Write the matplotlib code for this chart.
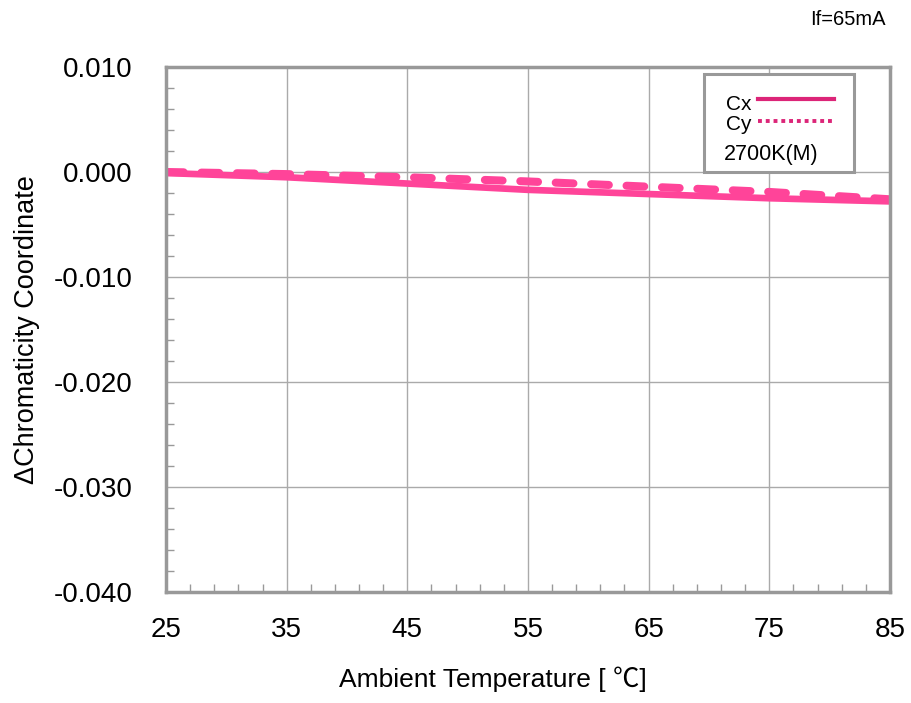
import matplotlib.pyplot as plt
import matplotlib.patches as patches
from matplotlib.lines import Line2D
from matplotlib.ticker import MultipleLocator

plt.rcParams['font.family'] = ['Liberation Sans', 'Noto Sans CJK JP', 'DejaVu Sans']
plt.rcParams['axes.unicode_minus'] = False

# Ambient temperature [C] and chromaticity shift
temps = [25, 35, 45, 55, 65, 75, 85]
cx = [-0.0001, -0.0005, -0.0011, -0.0017, -0.0021, -0.0025, -0.0028]
cy = [0.0000, -0.0002, -0.0005, -0.0009, -0.0014, -0.0019, -0.0026]
xticks = [25, 35, 45, 55, 65, 75, 85]
yticks = [-0.040, -0.030, -0.020, -0.010, 0.000, 0.010]

line_color = '#FF4499'
legend_color = '#DC2578'
frame_color = '#999999'

fig = plt.figure(figsize=(9.11, 7.03), dpi=100)
ax = fig.add_axes([0.1822, 0.1579, 0.7947, 0.7468])

ax.plot(temps, cy, color=line_color, lw=5.8, dashes=(2.2, 2.2), dash_capstyle='round')
ax.plot(temps, cx, color=line_color, lw=4.8, solid_capstyle='round')

ax.set_xlim(25, 85)
ax.set_ylim(-0.040, 0.010)
ax.set_xticks(xticks)
ax.xaxis.set_minor_locator(MultipleLocator(2, offset=1))
ax.set_yticks(yticks)
ax.set_yticklabels([f'{v:.3f}' for v in yticks])
ax.yaxis.set_minor_locator(MultipleLocator(0.002))

ax.grid(True, which='major', color='#aaaaaa', lw=1)
ax.tick_params(which='both', direction='in', colors=frame_color, labelcolor='black',
               labelsize=20)
ax.tick_params(which='major', length=0)
ax.tick_params(which='minor', length=6, width=1)
ax.tick_params(axis='y', which='major', pad=24)
ax.tick_params(axis='x', which='major', pad=18)
for s in ax.spines.values():
    s.set_color(frame_color)
    s.set_linewidth(2.5)

ax.set_xlabel('Ambient Temperature [ \u2103]', fontsize=19)
ax.xaxis.set_label_coords(0.452, -0.141)
ax.set_ylabel('\u0394Chromaticity Coordinate', fontsize=19.5)
ax.yaxis.set_label_coords(-0.174, 0.5)

fig.text(0.9726, 0.986, 'If=65mA', fontsize=14.5, ha='right', va='top')

# legend box
box = patches.Rectangle((0.7431, 0.8006), 0.2072, 0.1861, transform=ax.transAxes,
                        facecolor='white', edgecolor=frame_color, lw=2.2, zorder=5)
ax.add_patch(box)
ax.text(0.773, 0.9187, 'Cx', transform=ax.transAxes, fontsize=15, va='baseline', zorder=6)
ax.text(0.773, 0.8800, 'Cy', transform=ax.transAxes, fontsize=15, va='baseline', zorder=6)
ax.text(0.770, 0.8229, '2700K(M)', transform=ax.transAxes, fontsize=15.5, va='baseline', zorder=6)
ax.add_line(Line2D([0.8177, 0.9227], [0.9396, 0.9396], transform=ax.transAxes,
                   color=legend_color, lw=3, zorder=6))
ax.add_line(Line2D([0.8177, 0.9227], [0.8977, 0.8977], transform=ax.transAxes,
                   color=legend_color, lw=2.8, dashes=(1, 1), zorder=6))

fig.savefig('out.png', dpi=100)
